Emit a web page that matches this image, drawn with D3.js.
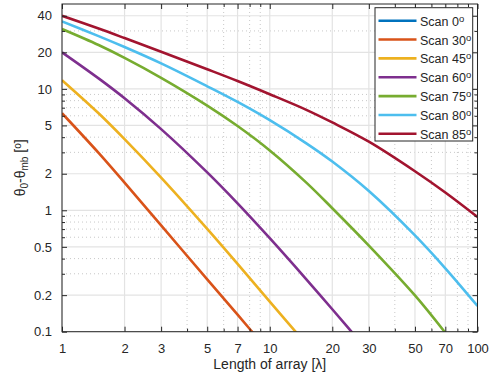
<!DOCTYPE html>
<html>
<head>
<meta charset="utf-8">
<script src="https://cdn.jsdelivr.net/npm/d3@7"></script>
<style>
  body { margin: 0; background: #fff; }
  svg text { font-family: "Liberation Sans", Arial, sans-serif; fill: #262626; }
</style>
</head>
<body>
<div id="chart"></div>
<script>
// array length in wavelengths
var lengths = [1, 1.5, 2, 3, 5, 7, 10, 15, 20, 30, 50, 70, 100];

// theta0 - theta_mb in degrees, one array per scan angle
var scan0  = [0, 0, 0, 0, 0, 0, 0, 0, 0, 0, 0, 0, 0];
var scan30 = [6.3, 2.97, 1.69, 0.75, 0.27, 0.138, 0.0675, null, null, null, null, null, null];
var scan45 = [11.8, 6.3, 3.86, 1.86, 0.703, 0.362, 0.177, 0.0789, null, null, null, null, null];
var scan60 = [20, 12.2, 8.37, 4.66, 2.05, 1.14, 0.589, 0.27, 0.153, 0.068, null, null, null];
var scan75 = [31.1, 22.96, 17.99, 12.33, 7.28, 4.94, 3.11, 1.69, 1.04, 0.512, 0.199, 0.098, 0.0439];
var scan80 = [35.9, 27.2, 22.1, 16.2, 10.5, 7.80, 5.52, 3.56, 2.52, 1.44, 0.621, 0.333, 0.163];
var scan85 = [40, 31.4, 26.2, 20.2, 14.5, 11.6, 9.03, 6.72, 5.29, 3.67, 2.095, 1.40, 0.88];

var scanNames = ["Scan 0", "Scan 30", "Scan 45", "Scan 60", "Scan 75", "Scan 80", "Scan 85"];
var scanValues = [scan0, scan30, scan45, scan60, scan75, scan80, scan85];
var colors = ["#0072BD", "#D95319", "#EDB120", "#7E2F8E", "#77AC30", "#4DBEEE", "#A2142F"];

var xTicks = [1, 2, 3, 5, 7, 10, 20, 30, 50, 70, 100];
var xMinor = [4, 6, 8, 9, 40, 60, 80, 90];
var yTicks = [0.1, 0.2, 0.5, 1, 2, 5, 10, 20, 40];
var yMinor = [0.3, 0.4, 0.6, 0.7, 0.8, 0.9, 3, 4, 6, 7, 8, 9, 30];

var width = 501, height = 380;
var plotL = 62, plotR = 477.5, plotT = 4, plotB = 331.7;

var x = d3.scaleLog().domain([1, 100]).range([plotL, plotR]);
var y = d3.scaleLog().domain([0.1, 50]).range([plotB, plotT]);

var svg = d3.select("#chart").append("svg")
  .attr("width", width)
  .attr("height", height);

svg.append("defs").append("clipPath").attr("id", "plot-clip")
  .append("rect")
  .attr("x", plotL).attr("y", plotT)
  .attr("width", plotR - plotL).attr("height", plotB - plotT);

// grid
var grid = svg.append("g");
grid.selectAll(".xminor").data(xMinor).enter().append("line")
  .attr("x1", x).attr("x2", x).attr("y1", plotT).attr("y2", plotB)
  .attr("stroke", "#c8c8c8").attr("stroke-dasharray", "1,3");
grid.selectAll(".yminor").data(yMinor).enter().append("line")
  .attr("y1", y).attr("y2", y).attr("x1", plotL).attr("x2", plotR)
  .attr("stroke", "#c8c8c8").attr("stroke-dasharray", "1,3");
grid.selectAll(".xmajor").data(xTicks).enter().append("line")
  .attr("x1", x).attr("x2", x).attr("y1", plotT).attr("y2", plotB)
  .attr("stroke", "#e3e3e3").attr("stroke-width", 1.2);
grid.selectAll(".ymajor").data(yTicks).enter().append("line")
  .attr("y1", y).attr("y2", y).attr("x1", plotL).attr("x2", plotR)
  .attr("stroke", "#e3e3e3").attr("stroke-width", 1.2);

// curves
var line = d3.line()
  .defined(function(d) { return d.v != null && d.v > 0; })
  .x(function(d) { return x(d.x); })
  .y(function(d) { return y(d.v); })
  .curve(d3.curveCatmullRom.alpha(0.5));

svg.append("g").attr("clip-path", "url(#plot-clip)")
  .selectAll("path").data(scanValues).enter().append("path")
  .attr("fill", "none")
  .attr("stroke", function(d, i) { return colors[i]; })
  .attr("stroke-width", 2.6)
  .attr("d", function(vals) {
    return line(lengths.map(function(l, i) { return {x: l, v: vals[i]}; }));
  });

// axes, inward ticks on all four sides
var axisColor = "#262626";
function styleAxis(g) {
  g.select(".domain").remove();
  g.selectAll(".tick line").attr("stroke", axisColor);
  g.selectAll(".tick text").style("font-size", "13px").attr("fill", axisColor);
}

svg.append("g").attr("transform", "translate(0," + plotB + ")")
  .call(d3.axisBottom(x).tickValues(xTicks).tickFormat(d3.format("d")).tickSizeInner(-5).tickPadding(12))
  .call(styleAxis);
svg.append("g").attr("transform", "translate(0," + plotB + ")")
  .call(d3.axisBottom(x).tickValues(xMinor).tickFormat("").tickSizeInner(-3))
  .call(styleAxis);
svg.append("g").attr("transform", "translate(0," + plotT + ")")
  .call(d3.axisTop(x).tickValues(xTicks).tickFormat("").tickSizeInner(-5))
  .call(styleAxis);
svg.append("g").attr("transform", "translate(0," + plotT + ")")
  .call(d3.axisTop(x).tickValues(xMinor).tickFormat("").tickSizeInner(-3))
  .call(styleAxis);

svg.append("g").attr("transform", "translate(" + plotL + ",0)")
  .call(d3.axisLeft(y).tickValues(yTicks).tickFormat(d3.format("~g")).tickSizeInner(-5).tickPadding(10))
  .call(styleAxis);
svg.append("g").attr("transform", "translate(" + plotL + ",0)")
  .call(d3.axisLeft(y).tickValues(yMinor).tickFormat("").tickSizeInner(-3))
  .call(styleAxis);
svg.append("g").attr("transform", "translate(" + plotR + ",0)")
  .call(d3.axisRight(y).tickValues(yTicks).tickFormat("").tickSizeInner(-5))
  .call(styleAxis);
svg.append("g").attr("transform", "translate(" + plotR + ",0)")
  .call(d3.axisRight(y).tickValues(yMinor).tickFormat("").tickSizeInner(-3))
  .call(styleAxis);

svg.append("rect")
  .attr("x", plotL).attr("y", plotT)
  .attr("width", plotR - plotL).attr("height", plotB - plotT)
  .attr("fill", "none").attr("stroke", axisColor).attr("stroke-width", 1);

// axis labels
svg.append("text")
  .attr("x", (plotL + plotR) / 2).attr("y", 369)
  .attr("text-anchor", "middle")
  .style("font-size", "14px")
  .text("Length of array [λ]");

var yl = svg.append("text")
  .attr("transform", "translate(25," + ((plotT + plotB) / 2) + ") rotate(-90)")
  .attr("text-anchor", "middle")
  .style("font-size", "14px");
yl.append("tspan").text("θ");
yl.append("tspan").attr("baseline-shift", "-25%").style("font-size", "10px").text("0");
yl.append("tspan").text("-θ");
yl.append("tspan").attr("baseline-shift", "-25%").style("font-size", "10px").text("mb");
yl.append("tspan").text(" [");
yl.append("tspan").attr("baseline-shift", "40%").style("font-size", "10px").text("o");
yl.append("tspan").text("]");

// legend
var legX = 375, legY = 7.7, legW = 97.7, legH = 133.3, rowH = 18.85;
var legend = svg.append("g");
legend.append("rect")
  .attr("x", legX).attr("y", legY).attr("width", legW).attr("height", legH)
  .attr("fill", "#fff").attr("stroke", axisColor).attr("stroke-width", 1);

var rows = legend.selectAll(".row").data(scanNames).enter().append("g")
  .attr("transform", function(d, i) { return "translate(0," + (legY + 13 + i * rowH) + ")"; });
rows.append("line")
  .attr("x1", legX + 3.5).attr("x2", legX + 41.5)
  .attr("stroke", function(d, i) { return colors[i]; })
  .attr("stroke-width", 2.6);
var lt = rows.append("text")
  .attr("x", legX + 45).attr("y", 5)
  .style("font-size", "12.5px");
lt.append("tspan").text(function(d) { return d; });
lt.append("tspan").attr("baseline-shift", "40%").style("font-size", "9.5px").text("o");
</script>
</body>
</html>
